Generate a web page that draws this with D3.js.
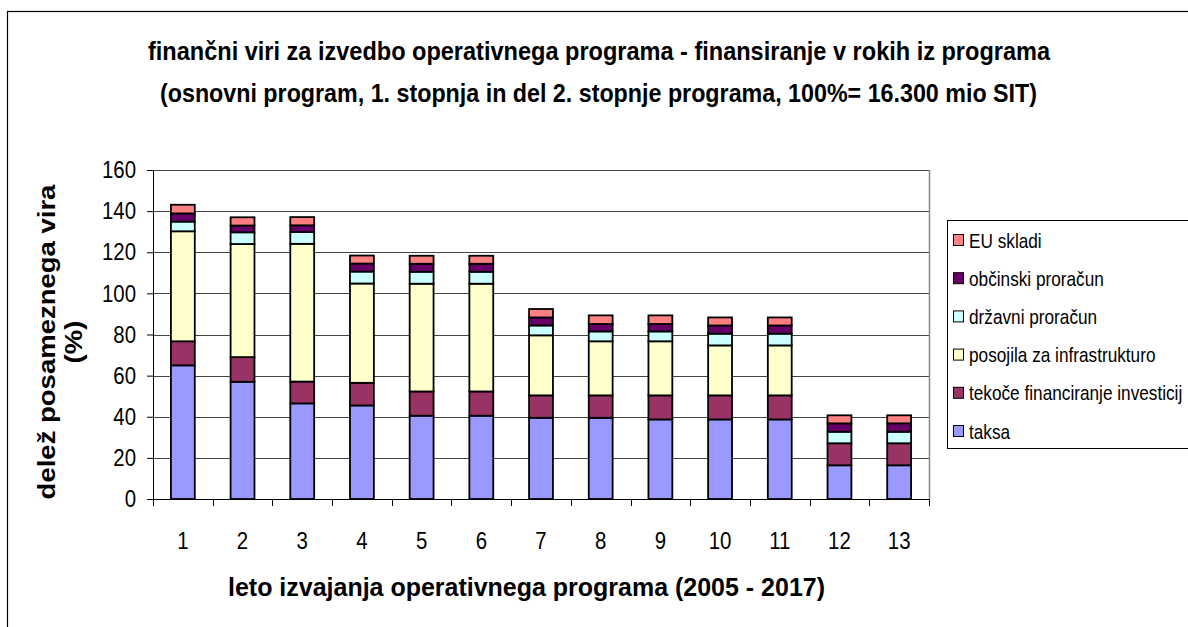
<!DOCTYPE html>
<html>
<head>
<meta charset="utf-8">
<script src="https://cdn.jsdelivr.net/npm/d3@7"></script>
<style>
  body { margin: 0; background: #fff; }
  svg { display: block; font-family: "Liberation Sans", Arial, sans-serif; }
</style>
</head>
<body>
<svg id="chart"></svg>
<script>
// leto izvajanja 1..13
const years = ["1", "2", "3", "4", "5", "6", "7", "8", "9", "10", "11", "12", "13"];
const seriesNames = ["taksa", "tekoče financiranje investicij", "posojila za infrastrukturo",
                     "državni proračun", "občinski proračun", "EU skladi"];
const seriesColors = ["#9999FF", "#993366", "#FFFFCC", "#CCFFFF", "#660066", "#FF8080"];

const taksa     = [65, 57, 46.5, 45.5, 40.5, 40.5, 39.5, 39.5, 38.7, 38.7, 38.7, 16.4, 16.4];
const tekoce    = [11.7, 12, 10.6, 11, 11.8, 11.8, 10.9, 10.9, 11.7, 11.7, 11.7, 10.7, 10.7];
const posojila  = [53.5, 55, 67, 48.3, 52.4, 52.4, 29.2, 26.3, 26.3, 24.3, 24.3, 0, 0];
const drzavni   = [4.7, 5.7, 5.7, 5.8, 5.8, 5.8, 4.8, 4.8, 4.8, 5.7, 5.7, 5.6, 5.6];
const obcinski  = [4, 3.3, 3.3, 3.9, 3.9, 3.9, 3.9, 3.6, 3.6, 4, 4, 4.1, 4.1];
const euSkladi  = [4.2, 4, 4, 3.9, 3.9, 3.9, 4.1, 4.2, 4.2, 3.9, 3.9, 3.9, 3.9];
const yTicks = [0, 20, 40, 60, 80, 100, 120, 140, 160];

const titleLines = [
  "finančni viri za izvedbo operativnega programa - finansiranje v rokih iz programa",
  "(osnovni program, 1. stopnja in del 2. stopnje programa, 100%= 16.300 mio SIT)"
];

const width = 1188, height = 627;
const sx = 0.85; // the original picture is squeezed sideways
const svg = d3.select("#chart").attr("width", width).attr("height", height);

// outer chart frame (runs off the right and bottom edge)
svg.append("rect")
  .attr("x", 7.5).attr("y", 11.5)
  .attr("width", 1200).attr("height", 640)
  .attr("fill", "#fff").attr("stroke", "#000").attr("stroke-width", 1.2);

const plot = { left: 153, right: 929, top: 170, bottom: 499 };

const x = d3.scaleBand()
  .domain(years)
  .range([plot.left, plot.right])
  .paddingInner(0.6)
  .paddingOuter(0.3);

const y = d3.scaleLinear().domain([0, 160]).range([plot.bottom, plot.top]);

// grid lines
svg.append("g")
  .selectAll("line")
  .data(yTicks.filter(d => d > 0))
  .enter().append("line")
  .attr("x1", plot.left).attr("x2", plot.right)
  .attr("y1", d => Math.round(y(d)) + 0.5).attr("y2", d => Math.round(y(d)) + 0.5)
  .attr("stroke", "#444").attr("stroke-width", 1);

// right edge of plot area
svg.append("line")
  .attr("x1", plot.right + 0.5).attr("x2", plot.right + 0.5)
  .attr("y1", plot.top).attr("y2", plot.bottom)
  .attr("stroke", "#888").attr("stroke-width", 1.5);

// stacked data
const rows = years.map((yr, i) => ({
  year: yr,
  s0: taksa[i], s1: tekoce[i], s2: posojila[i], s3: drzavni[i], s4: obcinski[i], s5: euSkladi[i]
}));
const keys = ["s0", "s1", "s2", "s3", "s4", "s5"];
const stacked = d3.stack().keys(keys)(rows);

const layers = svg.append("g").selectAll("g")
  .data(stacked)
  .enter().append("g")
  .attr("fill", (d, i) => seriesColors[i]);

layers.selectAll("rect")
  .data(d => d.filter(p => p[1] - p[0] > 0))
  .enter().append("rect")
  .attr("x", d => x(d.data.year))
  .attr("width", x.bandwidth())
  .attr("y", d => y(d[1]))
  .attr("height", d => y(d[0]) - y(d[1]))
  .attr("stroke", "#000")
  .attr("stroke-width", 1.8);

// y axis
const yAxis = d3.axisLeft(y).tickValues(yTicks).tickSize(6);
const yg = svg.append("g")
  .attr("transform", `translate(${plot.left},0)`)
  .call(yAxis);
yg.selectAll("text")
  .attr("x", 0)
  .attr("transform", `translate(-17,0) scale(${sx},1)`)
  .attr("font-size", 24).attr("fill", "#000")
  .attr("font-family", "'Liberation Sans', Arial, sans-serif");
yg.selectAll("line, path").attr("stroke", "#000");
yg.select(".domain").attr("d", `M0.5,${plot.top}V${plot.bottom}`);

// x axis: ticks between categories
const xg = svg.append("g");
xg.append("line")
  .attr("x1", plot.left).attr("x2", plot.right + 1)
  .attr("y1", plot.bottom + 0.5).attr("y2", plot.bottom + 0.5)
  .attr("stroke", "#000");
const bounds = d3.range(years.length + 1).map(i => plot.left + i * x.step());
xg.selectAll(".xtick")
  .data(bounds)
  .enter().append("line")
  .attr("class", "xtick")
  .attr("x1", d => Math.round(d) + 0.5).attr("x2", d => Math.round(d) + 0.5)
  .attr("y1", plot.bottom).attr("y2", plot.bottom + 7)
  .attr("stroke", "#000");
xg.selectAll(".xlab")
  .data(years)
  .enter().append("text")
  .attr("class", "xlab")
  .attr("transform", d => `translate(${x(d) + x.bandwidth() / 2},549) scale(${sx},1)`)
  .attr("text-anchor", "middle")
  .attr("font-size", 24)
  .text(d => d);

// titles
const titleWidths = [902, 877];
svg.append("g").selectAll("text")
  .data(titleLines)
  .enter().append("text")
  .attr("x", (d, i) => (i === 0 ? 148 : 160))
  .attr("y", (d, i) => 60 + i * 42)
  .attr("font-weight", "bold")
  .attr("font-size", 25)
  .attr("textLength", (d, i) => titleWidths[i])
  .attr("lengthAdjust", "spacingAndGlyphs")
  .text(d => d);

svg.append("text")
  .attr("transform", `translate(55,342) rotate(-90) scale(1,${sx})`)
  .attr("text-anchor", "middle")
  .attr("font-weight", "bold")
  .attr("font-size", 27.5)
  .text("delež posameznega vira");
svg.append("text")
  .attr("transform", `translate(82,342) rotate(-90) scale(1,${sx})`)
  .attr("text-anchor", "middle")
  .attr("font-weight", "bold")
  .attr("font-size", 27.5)
  .text("(%)");

svg.append("text")
  .attr("x", 228)
  .attr("y", 596)
  .attr("font-weight", "bold")
  .attr("font-size", 26)
  .attr("textLength", 597)
  .attr("lengthAdjust", "spacingAndGlyphs")
  .text("leto izvajanja operativnega programa (2005 - 2017)");

// legend (top entry is the last series)
const legend = svg.append("g");
legend.append("rect")
  .attr("x", 947.5).attr("y", 220.5)
  .attr("width", 260).attr("height", 228)
  .attr("fill", "#fff").attr("stroke", "#000");
const legendItems = seriesNames.map((n, i) => ({ name: n, color: seriesColors[i] })).reverse();
const li = legend.selectAll(".li")
  .data(legendItems)
  .enter().append("g")
  .attr("class", "li")
  .attr("transform", (d, i) => `translate(0,${240 + i * 38.2})`);
li.append("rect")
  .attr("x", 953.5).attr("y", -5.5)
  .attr("width", 10).attr("height", 11)
  .attr("fill", d => d.color).attr("stroke", "#000");
li.append("text")
  .attr("transform", "translate(969,7.5) scale(0.82,1)")
  .attr("font-size", 21)
  .text(d => d.name);
</script>
</body>
</html>
